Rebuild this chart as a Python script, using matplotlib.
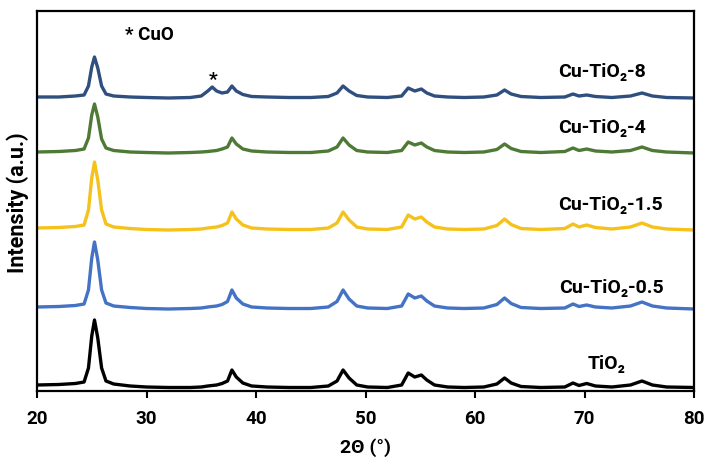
import matplotlib
matplotlib.use("Agg")
import matplotlib.pyplot as plt

plt.rcParams['font.family'] = ['Roboto', 'DejaVu Sans']

# 2-theta grid shared by all patterns
two_theta = [20, 22, 23.5, 24.3, 24.7, 25.0, 25.25, 25.55, 25.9, 26.3, 27, 28.5,
             30, 32, 34, 35.0, 35.6, 36.0, 36.4, 36.9, 37.4, 37.8, 38.2, 38.8,
             39.6, 41, 43, 45, 46.6, 47.4, 47.95, 48.5, 49.2, 50.2, 52, 53.3,
             53.9, 54.5, 55.1, 55.6, 56.3, 57.5, 59, 60.8, 62.0, 62.7, 63.3,
             64.2, 66, 68.2, 68.95, 69.5, 70.2, 71.0, 72.5, 74.2, 75.25, 76.2,
             77.5, 80]

# intensities above each pattern's own baseline (a.u.)
tio2 = [3, 3.5, 4.5, 6, 20, 52, 68, 50, 20, 7, 4, 2,
        1, 0.5, 0.5, 1, 2, 2.5, 3, 4.5, 7, 18, 11, 5,
        2, 1, 0.5, 0.5, 2, 7, 18, 10, 3, 1, 0.5, 3,
        15, 11, 13, 8, 3, 1, 0.5, 1, 4, 10, 5,
        1.5, 0.5, 1, 5, 2.5, 4.5, 2, 1, 3, 7, 3,
        1, 0.5]
cu_05 = [2, 2.5, 3.5, 5, 19, 51, 67, 49, 19, 6, 3, 1.5,
         0.5, 0, 0.5, 1, 2, 2.5, 3, 4.5, 7.5, 19, 11, 5,
         2, 1, 0.5, 0.5, 2, 7.5, 19, 10, 3, 1, 0.5, 3,
         15, 11, 13, 8, 3, 1, 0.5, 1, 4.5, 11, 5.5,
         1.5, 0.5, 1, 5, 2.5, 4, 2, 1, 3, 7, 3,
         1, 0]
cu_15 = [2, 2.5, 3.5, 5, 20, 52, 68, 50, 20, 6, 3, 1.5,
         0.5, 0, 0.5, 1, 2, 2.5, 3, 4.5, 7, 18, 11, 5,
         2, 1, 0.5, 0.5, 2, 7, 18, 10, 3, 1, 0.5, 3,
         15, 11, 13, 8, 3, 1, 0.5, 1, 4.5, 11, 5.5,
         1.5, 0.5, 1.5, 6, 3, 5, 2.5, 1, 3, 7, 3,
         1, 0]
cu_4 = [1, 1.5, 2.5, 4, 15, 38, 49, 36, 14, 5, 2.5, 1,
        0.5, 0, 0.5, 1, 1.5, 2, 2.5, 4, 6, 15, 9, 4,
        2, 1, 0.5, 0.5, 2, 6, 15, 8, 2.5, 1, 0.5, 2.5,
        11, 8, 10, 6, 2.5, 1, 0.5, 1, 3.5, 9, 4.5,
        1.5, 0.5, 1.5, 5, 2.5, 4, 2, 1, 2.5, 6, 2.5,
        1, 0]
cu_8 = [1, 1, 2, 3, 12, 31, 41, 30, 12, 4, 2, 1,
        0.5, 0, 0.5, 2, 7, 11, 7, 5, 6, 12, 7, 3.5,
        1.5, 1, 0.5, 0.5, 1.5, 5, 12, 7, 2.5, 1, 0.5, 2,
        10, 7, 9, 5, 2, 1, 0.5, 1, 3, 8, 4,
        1.5, 0.5, 1, 4, 2, 3, 1.5, 0.5, 2, 5, 2,
        0.5, 0]

patterns = [tio2, cu_05, cu_15, cu_4, cu_8]
offsets = [3, 82, 161, 238, 293]
colors = ['#000000', '#4472C4', '#F5C21B', '#4E7A36', '#2F4F7F']
names = ['TiO₂', 'Cu-TiO₂-0.5', 'Cu-TiO₂-1.5', 'Cu-TiO₂-4', 'Cu-TiO₂-8']
label_x = [70.3, 67.7, 67.6, 67.6, 67.6]
label_y = [27, 103, 186, 263, 319]

fig = plt.figure(figsize=(7.06, 4.59), dpi=100)
ax = fig.add_axes([37 / 706, 68 / 459, 657 / 706, 380 / 459])

for y, off, c in zip(patterns, offsets, colors):
    ax.plot(two_theta, [v + off for v in y], color=c, lw=2.4,
            solid_joinstyle='round', solid_capstyle='round')

for name, lx, ly in zip(names, label_x, label_y):
    ax.text(lx, ly, name, fontsize=14, fontweight='bold', ha='left', va='center')

ax.text(28.0, 356, '* CuO', fontsize=13.5, fontweight='bold', ha='left', va='center')
ax.text(36.05, 311, '*', fontsize=14, fontweight='bold', ha='center', va='center')

ax.set_xlim(20, 80)
ax.set_ylim(0, 380)
ax.set_xticks(range(20, 81, 10))
ax.set_yticks([])
ax.tick_params(axis='x', direction='out', length=5, width=1.5, labelsize=13.5, pad=9)
for lbl in ax.get_xticklabels():
    lbl.set_fontweight('bold')
for s in ax.spines.values():
    s.set_linewidth(1.6)

ax.set_xlabel('2Θ (°)', fontsize=14, fontweight='bold', va='center')
ax.xaxis.set_label_coords(0.5, -0.15)
ax.set_ylabel('Intensity (a.u.)', fontsize=15.5, fontweight='bold', va='center')
ax.yaxis.set_label_coords(-0.029, 0.495)

fig.savefig('out.png', dpi=100)
